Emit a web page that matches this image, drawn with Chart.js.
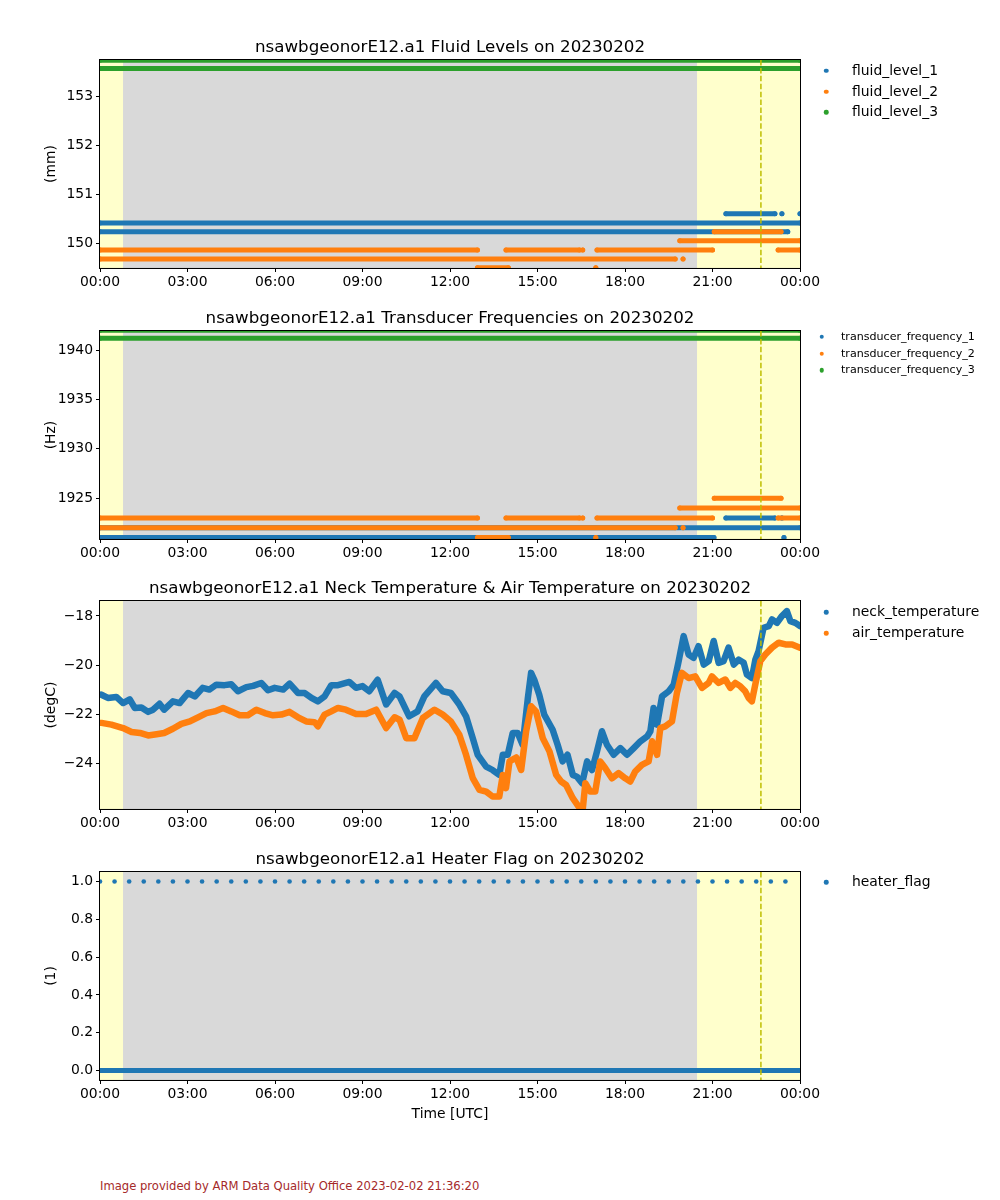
<!DOCTYPE html>
<html>
<head>
<meta charset="utf-8">
<script src="https://cdn.jsdelivr.net/npm/chart.js@4"></script>
<style>
html,body{margin:0;padding:0;background:#fff;}
#wrap{position:relative;width:1000px;height:1200px;overflow:hidden;background:#fff;font-family:"DejaVu Sans",sans-serif;}
#wrap canvas{position:absolute;left:0;}
.leg{position:absolute;white-space:nowrap;color:#000;font-family:"DejaVu Sans",sans-serif;line-height:1;transform:translateY(-50%);}
.dot{position:absolute;width:4.5px;height:4.5px;border-radius:50%;transform:translate(-50%,-50%);}
#foot{position:absolute;left:100px;top:1179px;font-size:11.6px;color:#a52a2a;font-family:"DejaVu Sans",sans-serif;white-space:nowrap;}
</style>
</head>
<body>
<div id="wrap"><div id="foot">Image provided by ARM Data Quality Office 2023-02-02 21:36:20</div></div>
<script>
// ---------------- DATA ----------------
const xTickHours = [0, 3, 6, 9, 12, 15, 18, 21, 24];
const xTickLabels = ['00:00', '03:00', '06:00', '09:00', '12:00', '15:00', '18:00', '21:00', '00:00'];

const fluidTicks = [150, 151, 152, 153];
const fluidTickLabels = ['150', '151', '152', '153'];
const freqTicks = [1925, 1930, 1935, 1940];
const freqTickLabels = ['1925', '1930', '1935', '1940'];
const tempTicks = [-24, -22, -20, -18];
const tempTickLabels = ['\u221224', '\u221222', '\u221220', '\u221218'];
const heaterTicks = [0, 0.2, 0.4, 0.6, 0.8, 1.0];
const heaterTickLabels = ['0.0', '0.2', '0.4', '0.6', '0.8', '1.0'];

// shaded time intervals (hours UTC) and marker line
const shadeStartHours = [0, 0.79];
const shadeEndHours = [24, 20.47];
const markerLineHours = [22.66];

// Fluid levels: [start hour, end hour, value mm]
const fluidLevel1Segments = [[0, 24, 150.42], [0, 23.58, 150.24], [21.46, 23.14, 150.61], [23.38, 23.38, 150.61], [24, 24, 150.61]];
const fluidLevel2Segments = [[0, 12.94, 149.87], [13.92, 16.44, 149.87], [16.55, 16.55, 149.87], [17.04, 21.0, 149.87], [23.25, 24, 149.87],
  [0, 19.72, 149.69], [19.99, 19.99, 149.69], [12.94, 14.0, 149.51], [17.0, 17.0, 149.51],
  [19.88, 24, 150.06], [21.06, 23.35, 150.24]];
const fluidLevel3Segments = [[0, 24, 153.56], [0, 24, 153.73]];

// Transducer frequencies: [start hour, end hour, value Hz]
const freq1Segments = [[0, 21.05, 1921], [23.45, 23.45, 1921], [0, 24, 1922], [21.46, 23.14, 1923], [23.38, 23.38, 1923]];
const freq2Segments = [[0, 12.94, 1923], [13.92, 16.44, 1923], [16.55, 16.55, 1923], [17.04, 21.0, 1923], [23.25, 24, 1923],
  [0, 19.72, 1922], [19.99, 19.99, 1922], [12.94, 14.0, 1921], [17.0, 17.0, 1921],
  [19.88, 24, 1924], [21.06, 23.35, 1925]];
const freq3Segments = [[0, 24, 1941.2], [0, 24, 1942]];

// Neck temperature (degC)
const neckHours = [0.05,0.27,0.56,0.79,1.02,1.19,1.42,1.65,1.82,2.04,2.2,2.5,2.73,3.02,3.25,3.52,3.75,3.99,4.27,4.5,4.73,5.02,5.25,5.53,5.76,5.99,6.28,6.5,6.79,7.02,7.25,7.47,7.7,7.93,8.16,
  8.55,8.78,9.0,9.23,9.52,9.81,10.1,10.27,10.6,10.89,11.12,11.52,11.75,12.03,12.32,12.55,12.78,12.95,13.24,13.46,13.69,13.81,13.98,14.15,14.32,14.49,14.67,14.78,14.89,15.06,15.23,15.52,15.69,15.86,16.03,16.21,16.35,
  16.53,16.7,16.87,17.04,17.21,17.38,17.61,17.84,18.07,18.3,18.53,18.76,18.87,18.98,19.1,19.27,19.5,19.67,19.84,20.01,20.18,20.35,20.52,20.7,20.87,21.04,21.21,21.38,21.55,21.73,21.9,22.07,22.18,22.35,22.47,22.58,22.75,22.93,23.04,23.21,23.38,23.55,23.67,23.84,24.0];
const neckValues = [-21.21,-21.34,-21.3,-21.55,-21.4,-21.75,-21.73,-21.91,-21.82,-21.58,-21.82,-21.48,-21.55,-21.14,-21.28,-20.93,-21.0,-20.8,-20.82,-20.78,-21.07,-20.9,-20.85,-20.73,-21.03,-20.93,-21.0,-20.76,-21.14,-21.14,-21.34,-21.48,-21.28,-20.82,-20.82,
  -20.69,-20.93,-20.86,-21.07,-20.6,-21.61,-21.14,-21.28,-22.09,-21.89,-21.28,-20.73,-21.07,-21.14,-21.61,-22.09,-22.98,-23.66,-24.14,-24.28,-24.48,-23.66,-23.66,-22.77,-22.77,-23.25,-21.34,-20.32,-20.6,-21.21,-22.02,-22.64,-23.25,-23.93,-23.66,-24.48,-24.55,
  -24.82,-23.93,-24.28,-23.52,-22.7,-23.25,-23.66,-23.39,-23.66,-23.39,-23.11,-22.91,-22.7,-21.75,-22.43,-21.28,-21.07,-20.8,-19.84,-18.82,-19.57,-19.71,-19.23,-19.98,-19.84,-19.02,-19.91,-19.84,-19.29,-19.98,-19.78,-19.91,-20.39,-20.53,-19.78,-19.43,-18.48,-18.41,-18.14,-18.28,-18.0,-17.8,-18.21,-18.28,-18.41];

// Air temperature (degC)
const airHours = [0.05,0.39,0.79,1.08,1.37,1.65,1.94,2.2,2.5,2.79,3.08,3.36,3.65,3.93,4.22,4.5,4.79,5.07,5.36,5.65,5.93,6.22,6.5,6.79,7.07,7.36,7.47,7.7,7.93,8.16,
  8.43,8.78,9.12,9.47,9.81,10.1,10.27,10.5,10.78,11.07,11.47,11.75,12.03,12.32,12.55,12.78,13.01,13.24,13.46,13.69,13.81,13.92,14.04,14.27,14.44,14.61,14.78,14.95,15.18,15.41,15.64,15.81,15.98,16.21,16.41,16.55,
  16.64,16.81,16.98,17.15,17.32,17.55,17.78,18.01,18.18,18.35,18.58,18.81,18.93,19.1,19.21,19.38,19.61,19.78,19.95,20.18,20.41,20.64,20.87,20.98,21.21,21.44,21.61,21.78,21.95,22.12,22.24,22.35,22.49,22.64,22.81,23.04,23.27,23.5,23.73,24.0];
const airValues = [-22.36,-22.43,-22.57,-22.73,-22.77,-22.87,-22.82,-22.77,-22.6,-22.4,-22.3,-22.13,-21.96,-21.89,-21.75,-21.89,-22.05,-22.05,-21.82,-21.96,-22.05,-22.02,-21.91,-22.13,-22.3,-22.33,-22.5,-22.02,-21.89,-21.75,
  -21.82,-22.0,-22.0,-21.82,-22.57,-22.13,-22.23,-22.98,-22.98,-22.16,-21.82,-22.02,-22.3,-22.84,-23.66,-24.61,-25.09,-25.16,-25.36,-25.36,-24.48,-25.02,-23.93,-23.77,-24.28,-22.7,-21.68,-21.89,-22.98,-23.52,-24.48,-24.75,-24.89,-25.43,-25.77,-25.9,
  -24.82,-25.16,-25.16,-23.93,-24.2,-24.62,-24.41,-24.62,-24.75,-24.34,-24.07,-23.93,-23.11,-23.66,-22.57,-22.5,-22.3,-21.14,-20.32,-20.53,-20.46,-20.93,-20.73,-20.46,-20.73,-20.59,-20.93,-20.73,-20.86,-21.07,-21.34,-21.48,-20.66,-19.84,-19.57,-19.29,-19.09,-19.16,-19.16,-19.29];

// Heater flag
const heaterOnHours = [0,0.5,1,1.5,2,2.5,3,3.5,4,4.5,5,5.5,6,6.5,7,7.5,8,8.5,9,9.5,10,10.5,11,11.5,12,12.5,13,13.5,14,14.5,15,15.5,16,16.5,17,17.5,18,18.5,19,19.5,20,20.5,21,21.5,22,22.5,23,23.5];
const heaterOnValue = 1;
const heaterOffSegments = [[0, 24, 0]];

// ---------------- STYLE / BUILD ----------------
const BLUE = '#1f77b4', ORANGE = '#ff7f0e', GREEN = '#2ca02c';
const FONT = 'DejaVu Sans';
Chart.defaults.font.family = FONT;
Chart.defaults.color = '#000';

function segData(segs) {
  const d = [];
  segs.forEach(([s, e, v]) => {
    d.push({x: s, y: v});
    if (e !== s) d.push({x: e, y: v});
    d.push({x: e, y: null});
  });
  return d;
}
function band(label, segs, color, order) {
  return {label, data: segData(segs), borderColor: color, backgroundColor: color, pointBackgroundColor: color,
    borderWidth: 5, pointRadius: 2.5, pointBorderWidth: 0, pointHoverRadius: 0, borderCapStyle: 'round',
    spanGaps: false, clip: 0, order, tension: 0};
}
function curve(label, hours, vals, color, order) {
  return {label, data: hours.map((h, i) => ({x: h, y: vals[i]})), borderColor: color, backgroundColor: color,
    borderWidth: 6.5, pointRadius: 0, borderJoinStyle: 'round', borderCapStyle: 'round', clip: 0, order, tension: 0};
}

const shadePlugin = {
  id: 'shade',
  beforeDatasetsDraw(chart) {
    const {ctx, chartArea: a, scales: {x}} = chart;
    const cols = ['#ffffcc', '#d9d9d9'];
    ctx.save();
    ctx.beginPath(); ctx.rect(a.left, a.top, a.width, a.height); ctx.clip();
    shadeStartHours.forEach((s, i) => {
      const x0 = x.getPixelForValue(s), x1 = x.getPixelForValue(shadeEndHours[i]);
      ctx.fillStyle = cols[i];
      ctx.fillRect(x0, a.top, x1 - x0, a.height);
    });
    ctx.restore();
  },
  afterDatasetsDraw(chart) {
    const {ctx, chartArea: a, scales: {x}} = chart;
    ctx.save();
    ctx.strokeStyle = '#bfbf00'; ctx.lineWidth = 1.5; ctx.setLineDash([5.5, 2.4]);
    markerLineHours.forEach(h => {
      const px = x.getPixelForValue(h);
      ctx.beginPath(); ctx.moveTo(px, a.top); ctx.lineTo(px, a.bottom); ctx.stroke();
    });
    ctx.setLineDash([]);
    ctx.strokeStyle = '#000'; ctx.lineWidth = 1;
    ctx.strokeRect(Math.round(a.left) - 0.5, Math.round(a.top) - 0.5, a.width + 1, a.height + 1);
    ctx.restore();
  }
};

const wrap = document.getElementById('wrap');
const TICKFONT = {family: FONT, size: 13.9};

function makePanel(p) {
  const H = 40 + p.h + p.xh;
  const cv = document.createElement('canvas');
  cv.width = 1000; cv.height = H;
  cv.style.top = (p.top - 40) + 'px';
  cv.style.width = '1000px'; cv.style.height = H + 'px';
  wrap.appendChild(cv);
  new Chart(cv, {
    type: 'line',
    data: {datasets: p.datasets},
    options: {
      responsive: false, animation: false, events: [],
      layout: {padding: {left: 0, right: 200, top: 0, bottom: 0}},
      plugins: {
        legend: {display: false}, tooltip: {enabled: false},
        title: {display: true, text: p.title, fullSize: false, color: '#000',
          font: {family: FONT, size: 16.7, weight: 'normal'}, padding: {top: 18, bottom: 2}}
      },
      scales: {
        x: {
          type: 'linear', min: 0, max: 24,
          afterFit: s => { s.height = p.xh; },
          afterBuildTicks: s => { s.ticks = xTickHours.map(v => ({value: v})); },
          ticks: {autoSkip: false, maxRotation: 0, padding: 2, font: TICKFONT, color: '#000',
            callback: (v, i) => xTickLabels[i]},
          grid: {drawOnChartArea: false, tickLength: 4, color: '#000'},
          border: {color: '#000'},
          title: p.xtitle ? {display: true, text: p.xtitle, font: TICKFONT, color: '#000', padding: {top: 4, bottom: 12}} : {display: false}
        },
        y: {
          type: 'linear', min: p.ymin, max: p.ymax,
          afterFit: s => { s.width = 100; },
          afterBuildTicks: s => { s.ticks = p.yticks.map(v => ({value: v})); },
          ticks: {autoSkip: false, padding: 3, font: TICKFONT, color: '#000',
            callback: (v, i) => p.ylabels[i]},
          grid: {drawOnChartArea: false, tickLength: 4, color: '#000'},
          border: {color: '#000'},
          title: {display: true, text: p.ytitle, font: TICKFONT, color: '#000', padding: {top: 42.7, bottom: 0}}
        }
      }
    },
    plugins: [shadePlugin]
  });
  // legend
  p.legend.forEach((it, i) => {
    const y = p.legY[i];
    const d = document.createElement('div');
    d.className = 'dot'; d.style.left = p.legDotX + 'px'; d.style.top = y + 'px'; d.style.background = it[1];
    wrap.appendChild(d);
    const t = document.createElement('div');
    t.className = 'leg'; t.textContent = it[0];
    t.style.left = p.legTextX + 'px'; t.style.top = y + 'px'; t.style.fontSize = p.legFont + 'px';
    wrap.appendChild(t);
  });
}

makePanel({
  top: 60, h: 208, xh: 40, title: 'nsawbgeonorE12.a1 Fluid Levels on 20230202', ytitle: '(mm)',
  ymin: 149.505, ymax: 153.733, yticks: fluidTicks, ylabels: fluidTickLabels,
  datasets: [band('fluid_level_1', fluidLevel1Segments, BLUE, 3), band('fluid_level_2', fluidLevel2Segments, ORANGE, 2), band('fluid_level_3', fluidLevel3Segments, GREEN, 1)],
  legend: [['fluid_level_1', BLUE], ['fluid_level_2', ORANGE], ['fluid_level_3', GREEN]],
  legY: [70.5, 91.5, 112.3], legDotX: 826, legTextX: 852, legFont: 13.9
});
makePanel({
  top: 331, h: 208, xh: 40, title: 'nsawbgeonorE12.a1 Transducer Frequencies on 20230202', ytitle: '(Hz)',
  ymin: 1920.86, ymax: 1941.93, yticks: freqTicks, ylabels: freqTickLabels,
  datasets: [band('transducer_frequency_1', freq1Segments, BLUE, 3), band('transducer_frequency_2', freq2Segments, ORANGE, 2), band('transducer_frequency_3', freq3Segments, GREEN, 1)],
  legend: [['transducer_frequency_1', BLUE], ['transducer_frequency_2', ORANGE], ['transducer_frequency_3', GREEN]],
  legY: [336.5, 353.5, 370], legDotX: 821.5, legTextX: 841, legFont: 11.1
});
makePanel({
  top: 601, h: 208, xh: 40, title: 'nsawbgeonorE12.a1 Neck Temperature & Air Temperature on 20230202', ytitle: '(degC)',
  ymin: -25.87, ymax: -17.39, yticks: tempTicks, ylabels: tempTickLabels,
  datasets: [curve('neck_temperature', neckHours, neckValues, BLUE, 2), curve('air_temperature', airHours, airValues, ORANGE, 1)],
  legend: [['neck_temperature', BLUE], ['air_temperature', ORANGE]],
  legY: [612, 633], legDotX: 826, legTextX: 852, legFont: 13.9
});
makePanel({
  top: 872, h: 208, xh: 55, xtitle: 'Time [UTC]', title: 'nsawbgeonorE12.a1 Heater Flag on 20230202', ytitle: '(1)',
  ymin: -0.05, ymax: 1.05, yticks: heaterTicks, ylabels: heaterTickLabels,
  datasets: [
    {label: 'heater_flag', data: heaterOnHours.map(h => ({x: h, y: heaterOnValue})), showLine: false,
      pointRadius: 2.3, pointBorderWidth: 0, pointBackgroundColor: BLUE, borderColor: BLUE, backgroundColor: BLUE, clip: 0, order: 1},
    band('heater_flag_off', heaterOffSegments, BLUE, 2)
  ],
  legend: [['heater_flag', BLUE]],
  legY: [882], legDotX: 826, legTextX: 852, legFont: 13.9
});
</script>
</body>
</html>
